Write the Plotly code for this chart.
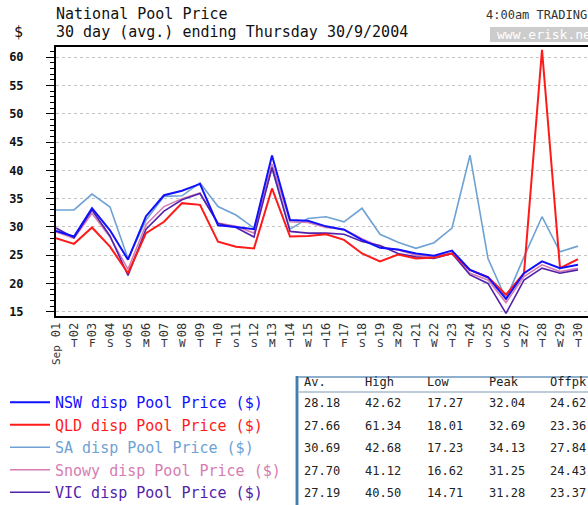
import plotly.graph_objects as go

# ---------------- data ----------------
days = list(range(1, 31))
day_labels = [f"{d:02d}" for d in days]
weekday_labels = ["Sep", "T", "F", "S", "S", "M", "T", "W", "T", "F", "S", "S", "M", "T", "W",
                  "T", "F", "S", "S", "M", "T", "W", "T", "F", "S", "S", "M", "T", "W", "T"]
weekend_days = [4, 5, 11, 12, 18, 19, 25, 26]

nsw = [29.3, 28.3, 33.3, 29.4, 24.2, 31.9, 35.6, 36.4, 37.6, 30.3, 30.0, 29.6, 42.62, 31.2, 31.1,
       30.1, 29.5, 27.7, 26.3, 26.0, 25.3, 24.9, 25.8, 22.4, 21.1, 17.27, 21.8, 23.9, 22.7, 23.3]
qld = [28.0, 27.0, 29.9, 26.5, 21.8, 28.9, 30.9, 34.2, 33.9, 27.4, 26.5, 26.2, 36.8, 28.3, 28.4,
       28.7, 27.7, 25.3, 23.9, 25.1, 24.4, 24.6, 25.3, 22.4, 21.1, 18.01, 21.8, 61.34, 22.7, 24.3]
sa = [33.0, 33.0, 35.8, 33.5, 24.4, 31.2, 35.4, 35.5, 37.8, 33.6, 32.1, 29.8, 40.3, 29.6, 31.5,
      31.8, 30.9, 33.3, 28.7, 27.3, 26.2, 27.2, 29.8, 42.68, 24.4, 17.23, 24.7, 31.8, 25.6, 26.6]
snowy = [29.1, 28.0, 32.4, 28.2, 22.5, 30.4, 33.6, 35.0, 36.0, 30.7, 30.1, 28.9, 41.12, 30.9, 30.8,
         29.9, 29.6, 27.9, 26.5, 25.9, 25.0, 24.7, 25.4, 21.8, 20.6, 16.62, 21.2, 23.3, 22.1, 22.7]
vic = [29.8, 28.1, 33.0, 28.4, 21.4, 29.6, 32.8, 34.8, 35.9, 30.6, 29.9, 28.2, 40.50, 29.2, 28.9,
       28.9, 28.7, 27.4, 26.7, 25.3, 24.7, 24.4, 25.3, 21.5, 20.0, 14.71, 20.6, 22.7, 21.8, 22.4]

series_names = ["NSW disp Pool Price ($)", "QLD disp Pool Price ($)", "SA disp Pool Price ($)",
                "Snowy disp Pool Price ($)", "VIC disp Pool Price ($)"]

table_header = ["Av.", "High", "Low", "Peak", "Offpk"]
tab_av = ["28.18", "27.66", "30.69", "27.70", "27.19"]
tab_high = ["42.62", "61.34", "42.68", "41.12", "40.50"]
tab_low = ["17.27", "18.01", "17.23", "16.62", "14.71"]
tab_peak = ["32.04", "32.69", "34.13", "31.25", "31.28"]
tab_offpk = ["24.62", "23.36", "27.84", "24.43", "23.37"]

# ---------------- style ----------------
W, H = 588, 505
L, T, B, R = 56, 47, 189, 0
PB = H - B          # plot bottom px
PH = H - T - B      # plot height px
PW = W - L - R
MONO = "DejaVu Sans Mono"

colors = {"NSW": "#1010ff", "QLD": "#ff1a1a", "SA": "#6fa2d4", "Snowy": "#d67cb2", "VIC": "#5222aa"}
widths = {"NSW": 2.0, "QLD": 2.0, "SA": 1.6, "Snowy": 1.6, "VIC": 1.6}


def pxx(x):
    return (x - L) / PW


def pxy(y):
    return (PB - y) / PH


fig = go.Figure()

draw = [("SA", sa, 2), ("Snowy", snowy, 3), ("VIC", vic, 4), ("QLD", qld, 1), ("NSW", nsw, 0)]
for key, vals, idx in draw:
    c = colors[key]
    fig.add_trace(go.Scatter(
        x=days, y=vals, mode="lines",
        line=dict(color=c, width=widths[key]),
        name=f"<span style='color:{c}'>{series_names[idx]}</span>",
        legendrank=idx + 1, legendgroup=key,
        hoverinfo="skip",
    ))

for d in weekend_days:
    fig.add_vline(x=d, line=dict(color="#c8c8c8", width=2), layer="below")

annotations = []
# weekday letters
for d, wl in zip(days, weekday_labels):
    if wl == "Sep":
        annotations.append(dict(x=d, y=0, xref="x", yref="paper", text=wl, showarrow=False,
                                textangle=-90, yshift=-39, yanchor="middle", xanchor="center",
                                font=dict(family=MONO, size=11, color="#333")))
    else:
        annotations.append(dict(x=d, y=0, xref="x", yref="paper", text=wl, showarrow=False,
                                yshift=-27, yanchor="middle", xanchor="center",
                                font=dict(family=MONO, size=11, color="#333")))

# titles
annotations += [
    dict(x=pxx(54), y=pxy(14), xref="paper", yref="paper", text="National Pool Price", showarrow=False,
         xanchor="left", yanchor="middle", font=dict(family=MONO, size=15, color="#111")),
    dict(x=pxx(54), y=pxy(32), xref="paper", yref="paper", text="30 day (avg.) ending Thursday 30/9/2004",
         showarrow=False, xanchor="left", yanchor="middle", font=dict(family=MONO, size=15, color="#111")),
    dict(x=pxx(12), y=pxy(32), xref="paper", yref="paper", text="$", showarrow=False,
         xanchor="left", yanchor="middle", font=dict(family=MONO, size=15, color="#111")),
    dict(x=pxx(484), y=pxy(15), xref="paper", yref="paper", text="4:00am TRADING", showarrow=False,
         xanchor="left", yanchor="middle", font=dict(family=MONO, size=12, color="#333")),
    dict(x=pxx(495), y=pxy(34.5), xref="paper", yref="paper", text="www.erisk.net", showarrow=False,
         xanchor="left", yanchor="middle", font=dict(family=MONO, size=13, color="#ffffff")),
]

# table
col_x = [302, 363, 425, 487, 548]
row_y = [382, 403.3, 425.8, 448.3, 470.5, 492.8]
for cx, h in zip(col_x, table_header):
    annotations.append(dict(x=pxx(cx), y=pxy(row_y[0]), xref="paper", yref="paper", text=h, showarrow=False,
                            xanchor="left", yanchor="middle", font=dict(family=MONO, size=12, color="#222")))
cols = [tab_av, tab_high, tab_low, tab_peak, tab_offpk]
for ci, col in enumerate(cols):
    for ri, v in enumerate(col):
        annotations.append(dict(x=pxx(col_x[ci]), y=pxy(row_y[ri + 1]), xref="paper", yref="paper", text=v,
                                showarrow=False, xanchor="left", yanchor="middle",
                                font=dict(family=MONO, size=12, color="#222")))

shapes = [
    dict(type="rect", xref="paper", yref="paper", x0=pxx(490), x1=pxx(600), y0=pxy(42), y1=pxy(27),
         fillcolor="#cccccc", line=dict(width=0), layer="below"),
    dict(type="line", xref="paper", yref="paper", x0=pxx(297), x1=pxx(600), y0=pxy(377), y1=pxy(377),
         line=dict(color="#8fb0cc", width=2)),
    dict(type="line", xref="paper", yref="paper", x0=pxx(297), x1=pxx(297), y0=pxy(376), y1=pxy(510),
         line=dict(color="#3f7fb0", width=2.5)),
    dict(type="line", xref="paper", yref="paper", x0=pxx(298), x1=pxx(600), y0=pxy(392), y1=pxy(392),
         line=dict(color="#b8c8d6", width=1.5)),
]

fig.update_layout(
    width=W, height=H,
    margin=dict(l=L, r=R, t=T, b=B, pad=0, autoexpand=False),
    paper_bgcolor="white", plot_bgcolor="white",
    showlegend=True,
    legend=dict(xref="container", yref="container", x=5 / W, y=1 - 386 / H,
                xanchor="left", yanchor="top", bgcolor="rgba(0,0,0,0)", itemwidth=40,
                font=dict(family=MONO, size=15), tracegroupgap=0, itemclick=False),
    annotations=annotations,
    shapes=shapes,
    xaxis=dict(range=[1, 1 + PW / 18.0], tickvals=days, ticktext=day_labels, tickangle=-90,
               tickfont=dict(family=MONO, size=12, color="#333"), ticks="", automargin=False,
               showgrid=False, zeroline=False, showline=True, linecolor="black", linewidth=2, mirror=True),
    yaxis=dict(range=[14.24, 61.82], tick0=0, dtick=5, ticks="outside", ticklen=8, tickcolor="black",
               tickwidth=1, tickfont=dict(family=MONO, size=12, color="#111", weight="bold"),
               ticklabelstandoff=20, automargin=False,
               minor=dict(dtick=1, ticks="outside", ticklen=4, tickcolor="black", showgrid=False),
               showgrid=True, gridcolor="#c4c4c4", griddash="dot", gridwidth=1,
               zeroline=False, showline=True, linecolor="black", linewidth=2, mirror=True),
)

fig.write_html("out.html", config={"displayModeBar": False},
               post_script="document.body.style.margin='0';document.body.style.overflow='hidden';")
